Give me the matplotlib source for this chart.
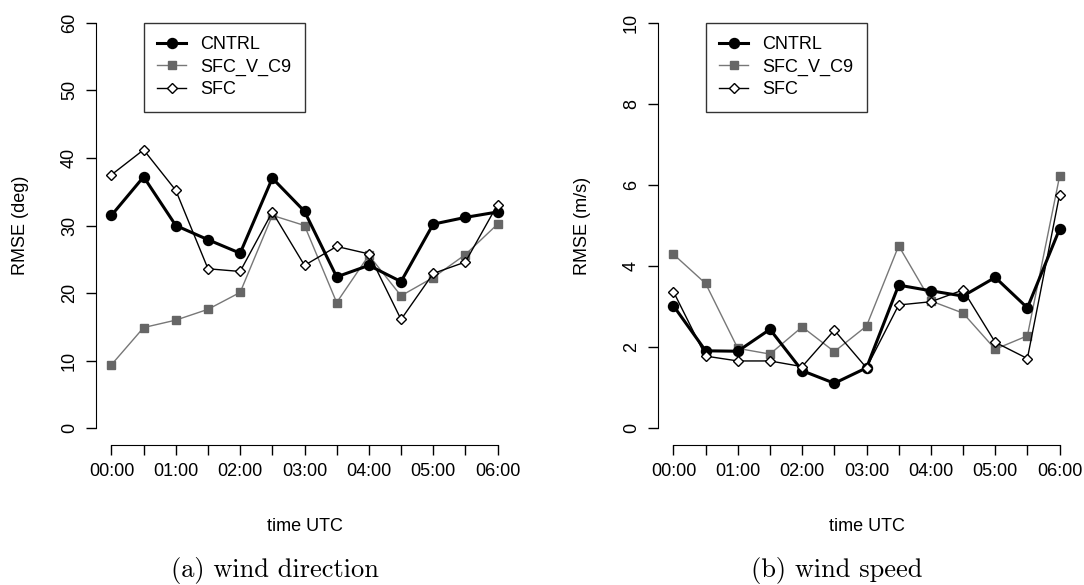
import matplotlib
matplotlib.use("Agg")
import matplotlib.pyplot as plt

plt.rcParams['font.family'] = ['Liberation Sans', 'DejaVu Sans']

time_labels = ['00:00', '01:00', '02:00', '03:00', '04:00', '05:00', '06:00']
n_steps = 13

# wind direction RMSE (deg)
dir_cntrl = [31.5, 37.2, 30.0, 27.9, 25.9, 37.0, 32.1, 22.4, 24.1, 21.7, 30.2, 31.2, 32.0]
dir_sfc_v_c9 = [9.4, 14.9, 16.0, 17.6, 20.1, 31.5, 30.0, 18.6, 25.6, 19.6, 22.3, 25.7, 30.2]
dir_sfc = [37.5, 41.2, 35.2, 23.6, 23.2, 32.0, 24.1, 26.9, 25.8, 16.1, 22.9, 24.6, 33.1]

# wind speed RMSE (m/s)
spd_cntrl = [3.02, 1.91, 1.90, 2.44, 1.42, 1.11, 1.49, 3.53, 3.39, 3.26, 3.72, 2.97, 4.91]
spd_sfc_v_c9 = [4.29, 3.57, 1.97, 1.83, 2.50, 1.89, 2.52, 4.50, 3.14, 2.84, 1.95, 2.28, 6.21]
spd_sfc = [3.37, 1.78, 1.66, 1.66, 1.52, 2.42, 1.49, 3.04, 3.12, 3.41, 2.12, 1.72, 5.76]

panels = [
    (dir_cntrl, dir_sfc_v_c9, dir_sfc, 'RMSE (deg)', 60, [0, 10, 20, 30, 40, 50, 60], '(a) wind direction'),
    (spd_cntrl, spd_sfc_v_c9, spd_sfc, 'RMSE (m/s)', 10, [0, 2, 4, 6, 8, 10], '(b) wind speed'),
]

fig = plt.figure(figsize=(10.84, 5.85), dpi=100)
lefts = [96 / 1084, 658 / 1084]
caption_x = [275 / 1084, 837 / 1084]
fs = 13

x = list(range(n_steps))
for left, cx, (c, v, s, ylab, ymax, yt, cap) in zip(lefts, caption_x, panels):
    ax = fig.add_axes([left, 140.5 / 585, 417 / 1084, 438 / 585])
    ax.plot(x, c, color='black', lw=2.2, marker='o', ms=7.2, label='CNTRL', zorder=3)
    ax.plot(x, v, color='#777777', lw=1.0, marker='s', ms=5.4, mfc='#666666', mec='#666666',
            label='SFC_V_C9', zorder=2)
    ax.plot(x, s, color='black', lw=1.0, marker='D', ms=5.2, mfc='white', mec='black',
            mew=1.0, label='SFC', zorder=4)
    ax.set_xlim(-0.48, 12.48)
    ax.set_ylim(-0.04 * ymax, 1.04 * ymax)
    for sp in ['top', 'right']:
        ax.spines[sp].set_visible(False)
    ax.spines['left'].set_bounds(0, ymax)
    ax.spines['bottom'].set_bounds(0, 12)
    ax.set_xticks(x)
    ax.set_xticklabels([time_labels[i // 2] if i % 2 == 0 else '' for i in x], fontsize=fs)
    ax.set_yticks(yt)
    ax.set_yticklabels([str(t) for t in yt], fontsize=fs, rotation=90, va='center')
    ax.tick_params(direction='out', length=7, width=1.0, pad=6)
    ax.set_xlabel('time UTC', fontsize=fs, labelpad=28)
    ax.set_ylabel(ylab, fontsize=fs, labelpad=23)
    leg = ax.legend(loc='upper left', bbox_to_anchor=(1, ymax), bbox_transform=ax.transData,
                    fontsize=fs, frameon=True, fancybox=False, edgecolor='black',
                    handlelength=1.6, handletextpad=0.8, borderpad=0.75, labelspacing=0.3,
                    borderaxespad=0)
    leg.get_frame().set_linewidth(1.0)
    # subfigure caption
    fig.text(cx, 1 - 570 / 585, cap, ha='center', va='center', fontsize=19, family='cmr10')

fig.savefig('out.png', dpi=100)
